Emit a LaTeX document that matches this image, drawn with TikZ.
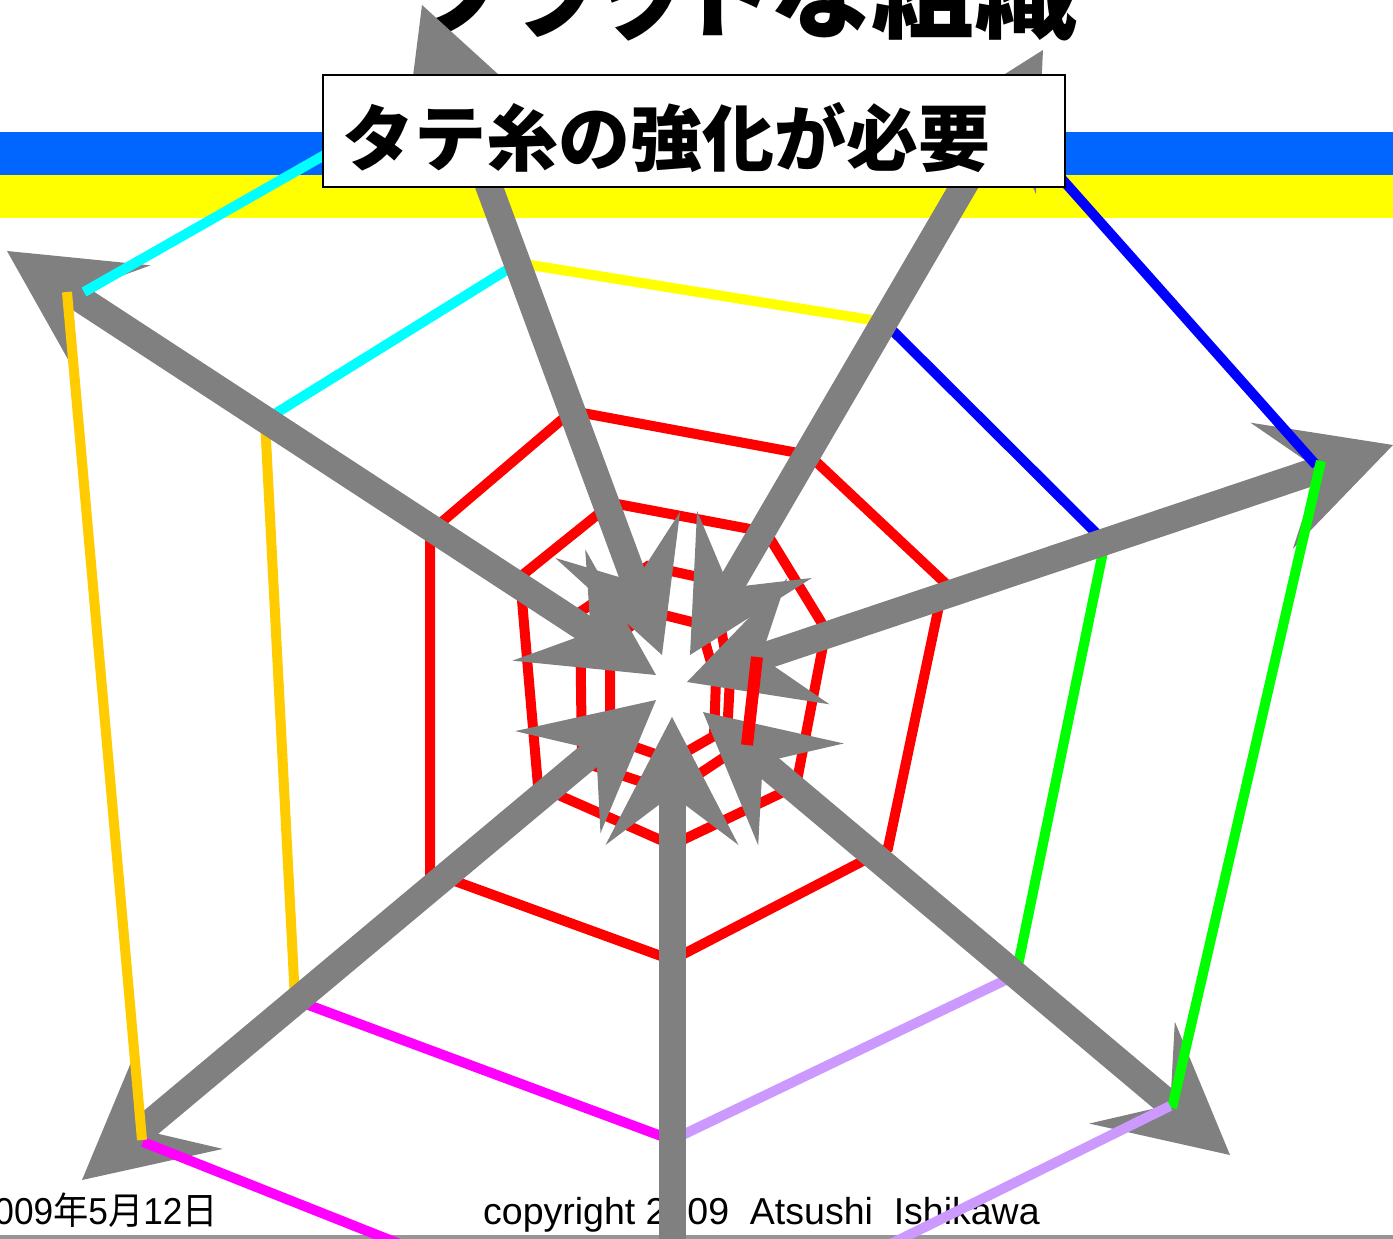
\documentclass[tikz,border=0pt]{standalone}
\usepackage{fontspec}
\setmainfont{Liberation Sans}
\newfontfamily\cjk{Noto Sans CJK JP}
\newfontfamily\cjkp[RawFeature=+palt]{Noto Sans CJK JP}
\usetikzlibrary{arrows.meta}
\definecolor{bandblue}{RGB}{0,102,255}
\definecolor{bandyellow}{RGB}{255,255,0}
\definecolor{threadgray}{RGB}{128,128,128}
\definecolor{rulegray}{RGB}{150,150,150}
\definecolor{sCyan}{RGB}{0,255,255}
\definecolor{sYellow}{RGB}{255,255,0}
\definecolor{sBlue}{RGB}{0,0,255}
\definecolor{sGreen}{RGB}{0,255,0}
\definecolor{sLav}{RGB}{204,153,255}
\definecolor{sMag}{RGB}{255,0,255}
\definecolor{sOrange}{RGB}{255,204,0}
\definecolor{sRed}{RGB}{255,0,0}
\begin{document}
\begin{tikzpicture}[x=1pt,y=-1pt,
  >={Stealth[length=128pt,width=133pt,inset=50pt,line width=0pt]},
  thread/.style={line width=27pt,draw=threadgray,<->},
  spiral/.style={line width=10pt,line cap=butt},
  redring/.style={line width=10pt,draw=sRed,line join=miter},
  footer/.style={inner sep=0pt,font=\fontsize{37.5}{40}\selectfont},
  ]
\useasboundingbox (0,0) rectangle (1393,1239);
\clip (0,0) rectangle (1393,1239);
\fill[white] (0,0) rectangle (1393,1239);

% title (cut off at top)
\node[anchor=base east,inner sep=0pt,font=\cjkp\bfseries\fontsize{103}{110}\selectfont] (title) at (1078,31) {フラットな組織};

% bands
\fill[bandblue] (0,132) rectangle (1393,175);
\fill[bandyellow] (0,175) rectangle (1393,218);
\fill[rulegray] (0,1235) rectangle (1393,1239);

% footer
\node[footer,anchor=base east] (date) at (218,1224) {\scalebox{0.94}[1]{2009{\cjk 年}5{\cjk 月}12{\cjk 日}}};
\node[footer,anchor=base west] (copy) at (483,1224) {copyright 2009\ \ Atsushi\ \ Ishikawa};

% ring 2
\coordinate (a1) at (265,420);
\coordinate (a2) at (518,263);
\coordinate (a3) at (884,322);
\coordinate (a4) at (1105,542);
\coordinate (a5) at (1016,975);
\coordinate (a6) at (672,1140);
\coordinate (a7) at (295,1000);
\draw[spiral,sCyan] (a1) -- (a2);
\draw[spiral,sYellow] (a2) -- (a3);
\draw[spiral,sBlue] (a3) -- (a4);
\draw[spiral,sGreen] (a4) -- (a5);
\draw[spiral,sLav] (a5) -- (a6);
\draw[spiral,sMag] (a6) -- (a7);
\draw[spiral,sOrange] (a7) -- (a1);

% red rings
\draw[redring] (430,532) -- (572,411) -- (809,455) -- (944,582) -- (888,848) -- (672,960) -- (430,872) -- cycle;
\draw[redring] (520,577) -- (612,503) -- (766,532) -- (826,630) -- (796,786) -- (672,845) -- (538,786) -- cycle;
\draw[redring] (580,612) -- (648,566) -- (712,580) -- (730,678) -- (726,756) -- (672,792) -- (582,762) -- cycle;
\draw[redring] (610,640) -- (652,612) -- (700,624) -- (716,680) -- (714,736) -- (672,760) -- (610,738) -- cycle;

% radial threads (double arrows)
\coordinate (iUL) at (656,675);  \coordinate (oUL) at (7,251);
\coordinate (iT)  at (662,655);  \coordinate (oT)  at (422,5);
\coordinate (iTR) at (690,655);  \coordinate (oTR) at (1043,50);
\coordinate (iR)  at (687,682);  \coordinate (oR)  at (1393,445);
\coordinate (iLR) at (703,712);  \coordinate (oLR) at (1230,1155);
\coordinate (iB)  at (672,717);  \coordinate (oB)  at (672,1372);
\coordinate (iBL) at (656,700);  \coordinate (oBL) at (82,1180);
\draw[thread] (iUL) -- (oUL);
\draw[thread] (iT) -- (oT);
\draw[thread] (iTR) -- (oTR);
\draw[thread] (iR) -- (oR);
\draw[thread] (iLR) -- (oLR);
\draw[thread] (iB) -- (oB);
\draw[thread] (iBL) -- (oBL);

% red bar on top
\draw[line width=12pt,sRed] (757,657) -- (747,745);

% outer ring (on top of threads)
\coordinate (o2) at (451,83);
\coordinate (o3) at (1005,115);
\coordinate (o6) at (672,1352);
\draw[spiral,sCyan] (84,292) -- (o2);
\draw[spiral,sYellow] (o2) -- (o3);
\draw[spiral,sBlue] (o3) -- (1316,465);
\draw[spiral,sGreen] (1321,461) -- (1172,1108);
\draw[spiral,sLav] (1170,1106) -- (o6);
\draw[spiral,sMag] (143,1142) -- (o6);
\draw[spiral,sOrange] (67,292) -- (142,1140);

% label box
\draw[line width=2pt,fill=white] (323,75) rectangle (1065,187);
\node[anchor=base west,inner sep=0pt,font=\cjk\bfseries\fontsize{72}{80}\selectfont] (need) at (342,165) {タテ糸の強化が必要};
\end{tikzpicture}
\end{document}
